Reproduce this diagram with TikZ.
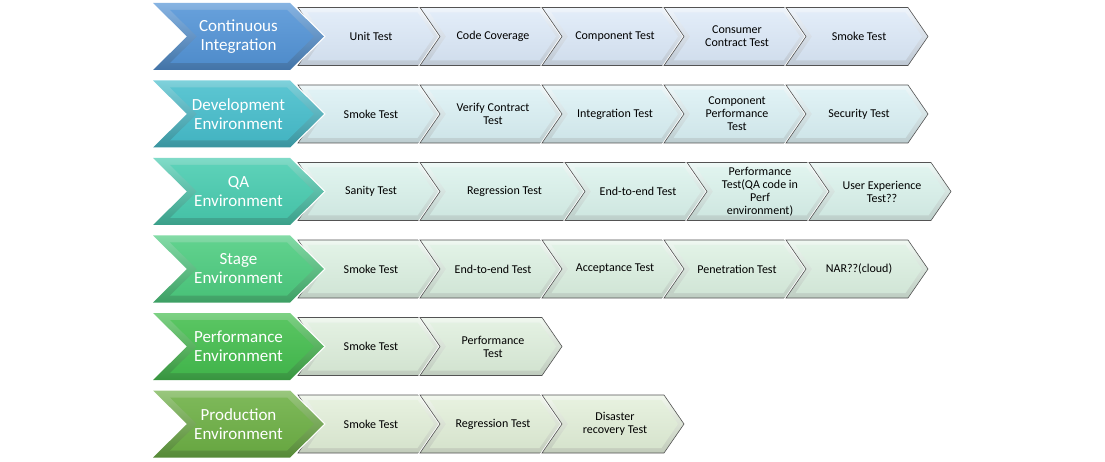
\documentclass[tikz,border=0pt]{standalone}
\usepackage{fontspec}
\setmainfont{Carlito}

\definecolor{ciblue}{RGB}{84,148,214}
\definecolor{devteal}{RGB}{72,190,204}
\definecolor{qaturq}{RGB}{74,204,176}
\definecolor{stagegreen}{RGB}{78,204,128}
\definecolor{perfgreen}{RGB}{70,190,80}
\definecolor{prodgreen}{RGB}{110,176,70}
\definecolor{citint}{RGB}{216,230,246}
\definecolor{devtint}{RGB}{214,238,242}
\definecolor{qatint}{RGB}{214,240,233}
\definecolor{stagetint}{RGB}{216,238,222}
\definecolor{perftint}{RGB}{218,236,216}
\definecolor{prodtint}{RGB}{222,236,212}

% options, left, centre y, body width, point depth, half height
\newcommand{\chevpath}[6]{\path[#1] (#2,#3-#6) -- (#2+#4,#3-#6) -- (#2+#4+#5,#3) -- (#2+#4,#3+#6) -- (#2,#3+#6) -- (#2+#5,#3) -- cycle;}

% name, row, left, body width, tint, text
\newcommand{\testbox}[6]{%
  \pgfmathsetmacro{\rowy}{36.5+77.5*#2}%
  \pgfmathsetmacro{\inx}{#3+9.5}%
  \pgfmathsetmacro{\inw}{#4-12}%
  \chevpath{draw=white,line width=2.4pt}{#3}{\rowy}{#4}{20}{29}
  \chevpath{top color=#5!40!white,bottom color=#5!70!gray,draw=gray!65!black,line width=.6pt}{#3}{\rowy}{#4}{20}{29}
  \chevpath{top color=#5!75!white,bottom color=#5!92!gray}{\inx}{\rowy}{\inw}{16.5}{24}
  \node[testtext] (#1) at (#3+#4/2+12,\rowy) {#6};
}

% name, row, colour, text
\newcommand{\stagebox}[4]{%
  \pgfmathsetmacro{\rowy}{36.5+77.5*#2}%
  \chevpath{draw=white,line width=2.4pt}{153}{\rowy}{137}{34}{33.5}
  \chevpath{top color=#3!70!white,bottom color=#3!78!black}{153}{\rowy}{137}{34}{33.5}
  \chevpath{top color=#3!90!white,bottom color=#3!95!black}{170}{\rowy}{117}{27}{26.5}
  \node[stagetext] (#1) at (238.5,\rowy) {#4};
}

\begin{document}
\begin{tikzpicture}[x=1pt,y=-1pt,
    stagetext/.style={text=white,align=center,font=\fontsize{17}{19}\selectfont},
    testtext/.style={text=black,align=center,font=\fontsize{12}{13}\selectfont}]
  \useasboundingbox (0,0) rectangle (1105,462);

  % continuous integration
  \foreach \x/\w/\lbl [count=\i] in {298/122/{Unit Test},420/122/{Code Coverage},542/122/{Component Test},664/122/{Consumer\\Contract Test},786/122/{Smoke Test}}
    {\testbox{ci-\i}{0}{\x}{\w}{citint}{\lbl}}
  \stagebox{ci}{0}{ciblue}{Continuous\\Integration}

  % development
  \foreach \x/\w/\lbl [count=\i] in {298/122/{Smoke Test},420/122/{Verify Contract\\Test},542/122/{Integration Test},664/122/{Component\\Performance\\Test},786/122/{Security Test}}
    {\testbox{dev-\i}{1}{\x}{\w}{devtint}{\lbl}}
  \stagebox{dev}{1}{devteal}{Development\\Environment}

  % qa
  \foreach \x/\w/\lbl [count=\i] in {298/122/{Sanity Test},420/145/{Regression Test},565/122/{End-to-end Test},687/122/{Performance\\Test(QA code in\\Perf\\environment)},809/122/{User Experience\\Test??}}
    {\testbox{qa-\i}{2}{\x}{\w}{qatint}{\lbl}}
  \stagebox{qa}{2}{qaturq}{QA\\Environment}

  % stage
  \foreach \x/\w/\lbl [count=\i] in {298/122/{Smoke Test},420/122/{End-to-end Test},542/122/{Acceptance Test},664/122/{Penetration Test},786/122/{NAR??(cloud)}}
    {\testbox{stage-\i}{3}{\x}{\w}{stagetint}{\lbl}}
  \stagebox{stage}{3}{stagegreen}{Stage\\Environment}

  % performance
  \foreach \x/\w/\lbl [count=\i] in {298/122/{Smoke Test},420/122/{Performance\\Test}}
    {\testbox{perf-\i}{4}{\x}{\w}{perftint}{\lbl}}
  \stagebox{perf}{4}{perfgreen}{Performance\\Environment}

  % production
  \foreach \x/\w/\lbl [count=\i] in {298/122/{Smoke Test},420/122/{Regression Test},542/122/{Disaster\\recovery Test}}
    {\testbox{prod-\i}{5}{\x}{\w}{prodtint}{\lbl}}
  \stagebox{prod}{5}{prodgreen}{Production\\Environment}
\end{tikzpicture}
\end{document}
